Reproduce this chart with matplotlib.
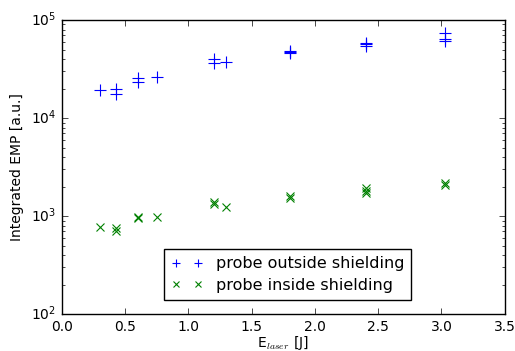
import matplotlib
matplotlib.use("Agg")
import matplotlib.pyplot as plt

plt.style.use('classic')

# Data: probe outside shielding (blue +)
e_out = [0.30, 0.43, 0.43, 0.60, 0.60, 0.75, 1.20, 1.20, 1.30, 1.80, 1.80, 1.80, 2.40, 2.40, 2.40, 3.03, 3.03, 3.03]
emp_out = [19300, 20000, 17800, 25800, 23200, 26000, 39700, 36200, 37000, 47500, 46500, 48500, 57800, 54300, 56500, 73100, 64000, 60500]

# Data: probe inside shielding (green x)
e_in = [0.30, 0.43, 0.43, 0.60, 0.60, 0.75, 1.20, 1.20, 1.30, 1.80, 1.80, 2.40, 2.40, 2.40, 3.03, 3.03]
emp_in = [778, 760, 710, 960, 990, 977, 1380, 1320, 1228, 1600, 1520, 1915, 1800, 1730, 2190, 2070]

xticks = [0.0, 0.5, 1.0, 1.5, 2.0, 2.5, 3.0, 3.5]

fig = plt.figure(figsize=(5.15, 3.51), dpi=100, facecolor='white')
ax = fig.add_axes([0.12, 0.105, 0.86, 0.838])
ax.plot(e_out, emp_out, linestyle='none', marker='+', color='blue', markersize=8,
        markeredgewidth=0.8, label='probe outside shielding')
ax.plot(e_in, emp_in, linestyle='none', marker='x', color='green', markersize=6,
        markeredgewidth=0.8, label='probe inside shielding')
ax.set_yscale('log')
ax.set_xlim(0, 3.5)
ax.set_ylim(1e2, 1e5)
ax.set_xticks(xticks)
ax.set_xticklabels([f"{t:.1f}" for t in xticks])
ax.tick_params(labelsize=10)
ax.set_xlabel(r'E$_{laser}$ [J]', fontsize=10, labelpad=0)
ax.set_ylabel('Integrated EMP [a.u.]', fontsize=10)
leg = ax.legend(loc='lower center', bbox_to_anchor=(0.51, 0.022), numpoints=2,
                fontsize=11.5, frameon=True, handlelength=2.0, borderpad=0.45,
                labelspacing=0.4, markerscale=0.8)
fig.savefig('out.png', dpi=100, facecolor='white')
